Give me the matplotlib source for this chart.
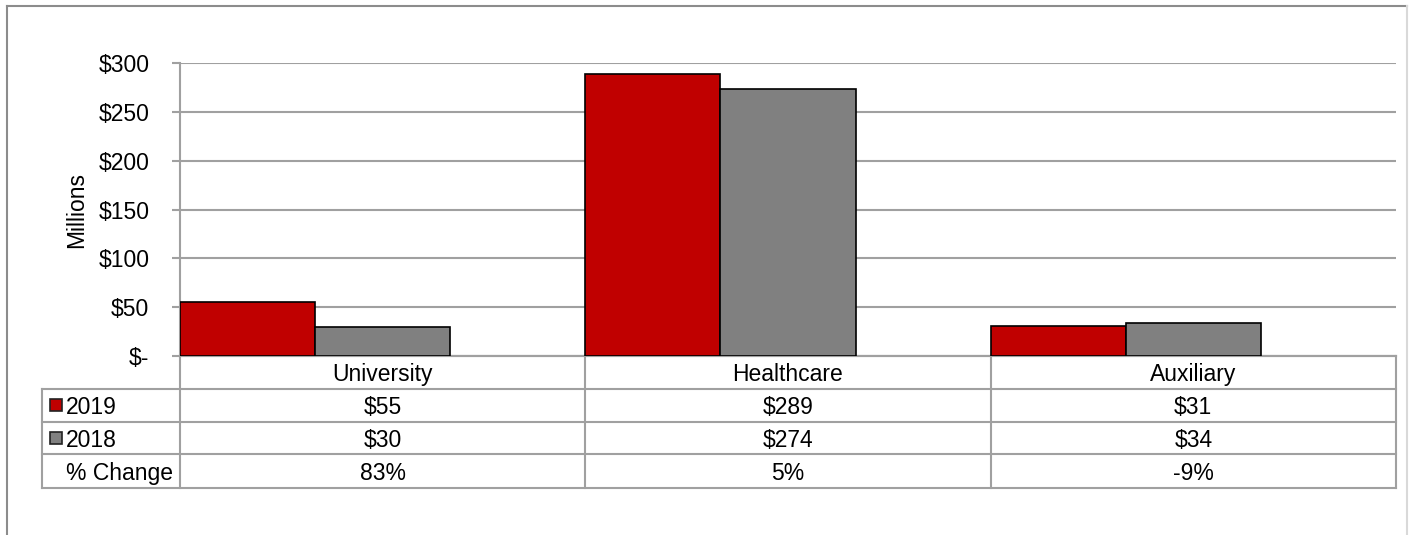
import matplotlib
matplotlib.use("Agg")
import matplotlib.pyplot as plt
from matplotlib.patches import Rectangle
from matplotlib.lines import Line2D

plt.rcParams["font.family"] = ["Liberation Sans", "DejaVu Sans"]
plt.rcParams["font.size"] = 16.5

# ------------------------------------------------------------
# DATA
# ------------------------------------------------------------
categories = ["University", "Healthcare", "Auxiliary"]
values_2019 = [55, 289, 31]
values_2018 = [30, 274, 34]
pct_change = ["83%", "5%", "-9%"]
series_names = ["2019", "2018"]
yticks = [0, 50, 100, 150, 200, 250, 300]
ytick_labels = ["$-", "$50", "$100", "$150", "$200", "$250", "$300"]

red = "#C00000"
gray = "#808080"
line_gray = "#A0A0A0"

W, H = 1409, 535
fig = plt.figure(figsize=(W / 100, H / 100), dpi=100)

# plot area (pixel coords from the reference)
px_left, px_right, px_top, px_bottom = 180, 1396, 63.3, 356
aw = px_right - px_left
ah = px_bottom - px_top
ax = fig.add_axes([px_left / W, 1 - px_bottom / H, aw / W, ah / H])

# ------------------------------------------------------------
# BARS (left-aligned within each category slot)
# ------------------------------------------------------------
x = list(range(len(categories)))
bw = 1 / 3
ax.bar([i - 0.5 for i in x], values_2019, width=bw, align="edge",
       color=red, edgecolor="black", linewidth=1.2, zorder=3)
ax.bar([i - 0.5 + bw for i in x], values_2018, width=bw, align="edge",
       color=gray, edgecolor="black", linewidth=1.2, zorder=3)

ax.set_xlim(-0.5, len(categories) - 0.5)
ax.set_ylim(0, 300)
ax.set_yticks(yticks)
ax.set_yticklabels(ytick_labels)
ax.set_xticks([])
ax.yaxis.grid(True, color=line_gray, linewidth=1.5, zorder=0)
ax.set_axisbelow(True)
for s in ["top", "right"]:
    ax.spines[s].set_visible(False)
for s in ["left", "bottom"]:
    ax.spines[s].set_color(line_gray)
    ax.spines[s].set_linewidth(1.5)
ax.tick_params(axis="y", length=6, width=1.5, color=line_gray, pad=16)
ax.set_ylabel("Millions")
ax.yaxis.set_label_coords((88 - px_left) / aw, 0.5)

# ------------------------------------------------------------
# DATA TABLE (drawn under the axis, x in data units, y in axes units)
# ------------------------------------------------------------
rows_text = [["$%d" % v for v in values_2019],
             ["$%d" % v for v in values_2018],
             pct_change]
row_labels = series_names + ["% Change"]
tr = ax.get_xaxis_transform()
slot_px = aw / len(categories)
x_tbl_left = -0.5 - (px_left - 42) / slot_px
row_edges_px = [356, 388.7, 421.7, 454.3, 488]
row_edges = [-(p - px_bottom) / ah for p in row_edges_px]
col_edges = [i - 0.5 for i in range(len(categories) + 1)]

def hline(y, x0, x1):
    ax.add_line(Line2D([x0, x1], [y, y], transform=tr, color=line_gray,
                       linewidth=1.5, clip_on=False))

def vline(xv, y0, y1):
    ax.add_line(Line2D([xv, xv], [y0, y1], transform=tr, color=line_gray,
                       linewidth=1.5, clip_on=False))

# horizontal rules
hline(row_edges[0], col_edges[0], col_edges[-1])
for y in row_edges[1:]:
    hline(y, x_tbl_left, col_edges[-1])
# vertical rules
for xv in col_edges:
    vline(xv, row_edges[0], row_edges[-1])
vline(x_tbl_left, row_edges[1], row_edges[-1])

def ymid(r):
    return (row_edges[r] + row_edges[r + 1]) / 2

for j, name in enumerate(categories):
    ax.text(j, ymid(0), name, transform=tr, ha="center", va="center_baseline")
for i, (lab, vals) in enumerate(zip(row_labels, rows_text), start=1):
    for j, val in enumerate(vals):
        ax.text(j, ymid(i), val, transform=tr, ha="center", va="center_baseline")
    if i == 3:
        ax.text(-0.5 - 7 / slot_px, ymid(i), lab, transform=tr, ha="right",
                va="center_baseline")
    else:
        ax.text(-0.5 - (px_left - 66) / slot_px, ymid(i), lab, transform=tr,
                ha="left", va="center_baseline")

# legend keys in the row labels
key_colors = [red, gray]
for r, col in enumerate(key_colors, start=1):
    cy = (row_edges_px[r] + row_edges_px[r + 1]) / 2
    fig.patches.append(Rectangle((50 / W, 1 - (cy + 6) / H), 12 / W, 12 / H,
                                 transform=fig.transFigure, facecolor=col,
                                 edgecolor="#222222", linewidth=1.2))

# ------------------------------------------------------------
# OUTER FRAME
# ------------------------------------------------------------
fig.lines.append(Line2D([7 / W, 7 / W], [0, 1 - 6 / H], transform=fig.transFigure,
                        color="#8c8c8c", linewidth=1.5))
fig.lines.append(Line2D([7 / W, 1407 / W], [1 - 6 / H, 1 - 6 / H],
                        transform=fig.transFigure, color="#8c8c8c", linewidth=1.5))
fig.lines.append(Line2D([1407 / W, 1407 / W], [0, 1 - 6 / H], transform=fig.transFigure,
                        color="#d9d9d9", linewidth=1.5))

fig.savefig("out.png", dpi=100)
